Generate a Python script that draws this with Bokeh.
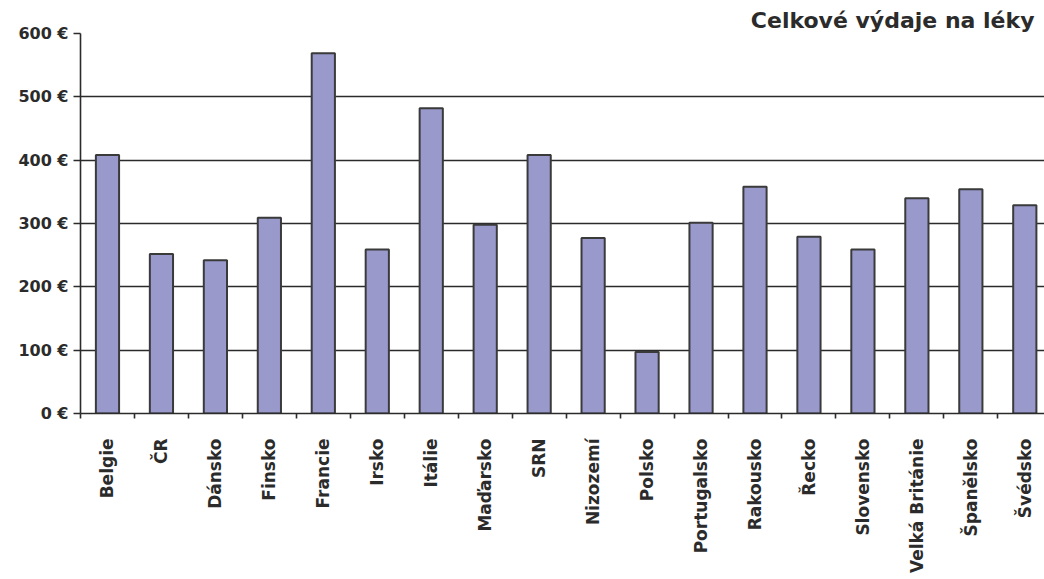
from bokeh.plotting import figure
from bokeh.models import Range1d, FixedTicker, ColumnDataSource, Title
from bokeh.embed import file_html
from bokeh.resources import INLINE
import math

# Total pharmaceutical expenditure per country (EUR)
countries = ["Belgie", "ČR", "Dánsko", "Finsko", "Francie", "Irsko", "Itálie",
             "Maďarsko", "SRN", "Nizozemí", "Polsko", "Portugalsko", "Rakousko",
             "Řecko", "Slovensko", "Velká Británie", "Španělsko", "Švédsko"]
spending = [408, 252, 242, 309, 569, 259, 482, 298, 408, 277, 97, 301, 358,
            279, 259, 340, 354, 329]

y_ticks = [0, 100, 200, 300, 400, 500, 600]
y_tick_labels = ["0 €", "100 €", "200 €", "300 €", "400 €", "500 €", "600 €"]
title_text = "Celkové výdaje na léky"

centers = [i + 0.5 for i in range(len(countries))]
source = ColumnDataSource(data=dict(x=centers, top=spending, name=countries))

W, H = 1044, 579
LEFT, TOP, BOTTOM = 80, 33, 166
step_px = 53.96
x_end = (W - LEFT) / step_px

ink = "#2b2b2b"

p = figure(width=W, height=H, output_backend="svg", toolbar_location=None,
           x_range=Range1d(0, x_end), y_range=Range1d(0, 600),
           min_border_left=LEFT, min_border_top=TOP, min_border_bottom=BOTTOM,
           min_border_right=0, background_fill_color="white",
           border_fill_color="white")
p.outline_line_color = None
p.title = Title(text=title_text, align="right", text_font="DejaVu Sans",
                text_font_style="bold", text_font_size="22px",
                text_color=ink, standoff=2, offset=10)

p.vbar(x="x", top="top", width=0.43, source=source,
       fill_color="#9999cc", line_color="#3a3a3a", line_width=2)

# horizontal gridlines (none at the top or at zero)
p.xgrid.visible = False
p.ygrid.ticker = FixedTicker(ticks=y_ticks[1:-1])
p.ygrid.grid_line_color = ink
p.ygrid.grid_line_width = 1.6

# y axis
p.yaxis.ticker = FixedTicker(ticks=y_ticks)
p.yaxis.major_label_overrides = {t: s for t, s in zip(y_ticks, y_tick_labels)}
p.yaxis.axis_line_color = ink
p.yaxis.axis_line_width = 1.6
p.yaxis.major_tick_line_color = ink
p.yaxis.major_tick_line_width = 1.6
p.yaxis.major_tick_in = 0
p.yaxis.major_tick_out = 7
p.yaxis.minor_tick_line_color = None
p.yaxis.major_label_standoff = 5
p.yaxis.major_label_text_font = "DejaVu Sans"
p.yaxis.major_label_text_font_style = "bold"
p.yaxis.major_label_text_font_size = "16px"
p.yaxis.major_label_text_color = ink

# x axis: labels under bar centres, small ticks at category boundaries
p.xaxis.ticker = FixedTicker(ticks=centers, minor_ticks=list(range(len(countries) + 1)))
p.xaxis.major_label_overrides = {c: n for c, n in zip(centers, countries)}
p.xaxis.major_label_orientation = math.pi / 2
p.xaxis.axis_line_color = ink
p.xaxis.axis_line_width = 1.6
p.xaxis.major_tick_line_color = None
p.xaxis.major_tick_in = 0
p.xaxis.major_tick_out = 0
p.xaxis.minor_tick_line_color = ink
p.xaxis.minor_tick_line_width = 1.6
p.xaxis.minor_tick_in = 0
p.xaxis.minor_tick_out = 5
p.xaxis.major_label_standoff = 20
p.xaxis.major_label_text_font = "DejaVu Sans"
p.xaxis.major_label_text_font_style = "bold"
p.xaxis.major_label_text_font_size = "17px"
p.xaxis.major_label_text_color = ink

open("out.html", "w").write(file_html(p, INLINE))
